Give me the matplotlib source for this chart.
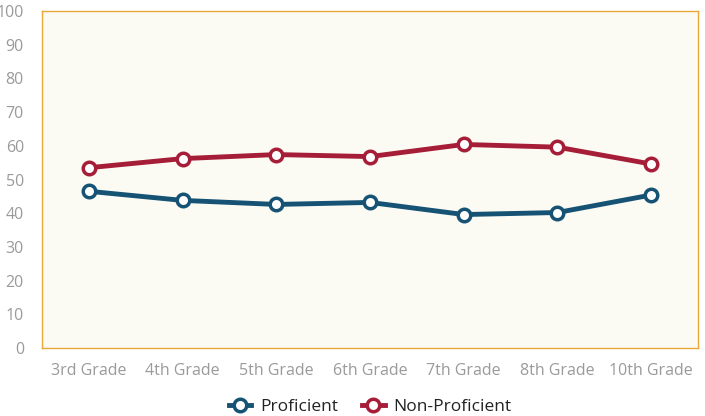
import matplotlib.pyplot as plt

grades = ["3rd Grade", "4th Grade", "5th Grade", "6th Grade", "7th Grade", "8th Grade", "10th Grade"]
proficient = [46.5, 43.8, 42.6, 43.2, 39.6, 40.2, 45.4]
non_proficient = [53.5, 56.2, 57.4, 56.8, 60.4, 59.6, 54.6]

plt.rcParams['font.family'] = ['Open Sans', 'DejaVu Sans']

fig = plt.figure(figsize=(7.05, 4.16), dpi=100)
ax = fig.add_axes([42/705, 68/416, 656/705, 337/416])
ax.set_facecolor('#fcfbf3')

x = range(len(grades))
ax.plot(x, proficient, color='#155274', lw=3.5, marker='o', ms=9,
        mfc='white', mew=2.5, label='Proficient')
ax.plot(x, non_proficient, color='#a61d37', lw=3.5, marker='o', ms=9,
        mfc='white', mew=2.5, label='Non-Proficient')

ax.set_xlim(-0.5, 6.5)
ax.set_ylim(0, 100)
ax.set_yticks(range(0, 101, 10))
ax.set_xticks(list(x))
ax.set_xticklabels(grades)
for s in ax.spines.values():
    s.set_color('#e8a93a')
    s.set_linewidth(1)
ax.tick_params(length=0, colors='#9a9a9a', labelsize=11.5)
ax.tick_params(axis='x', pad=11)
ax.tick_params(axis='y', pad=13)

leg = ax.legend(loc='upper center', bbox_to_anchor=(0.5, -0.105), ncol=2,
                frameon=False, fontsize=12.5, handlelength=1.3, columnspacing=1.4,
                handletextpad=0.5)
for t in leg.get_texts():
    t.set_color('#222222')

fig.savefig('out.png', dpi=100)
